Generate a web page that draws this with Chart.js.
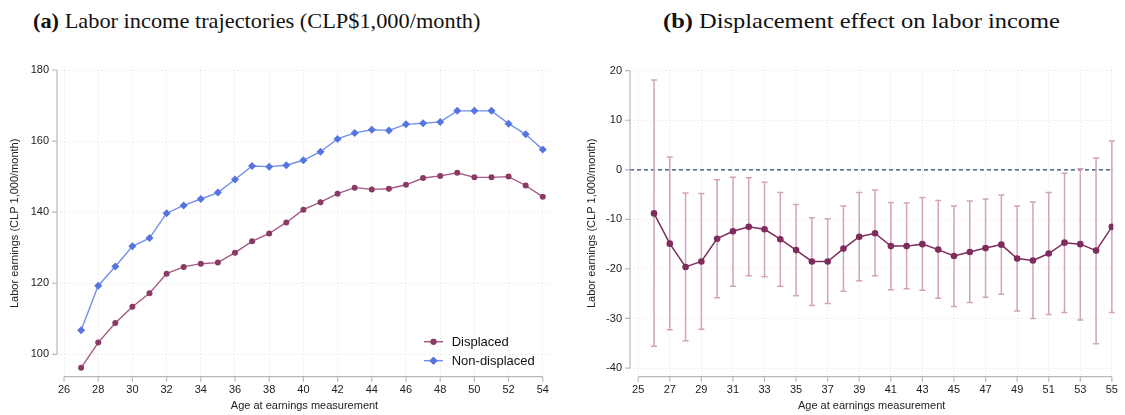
<!DOCTYPE html>
<html>
<head>
<meta charset="utf-8">
<script src="https://cdn.jsdelivr.net/npm/chart.js@4.4.1/dist/chart.umd.min.js"></script>
<style>
  body { margin: 0; background: #fff; }
  #page { position: relative; width: 1125px; height: 415px; overflow: hidden; }
  .title { position: absolute; top: 10px; font-family: "Liberation Serif", serif; font-size: 22px; line-height: 22px; color: #111; white-space: nowrap; transform-origin: 0 50%; }
  .title b { font-weight: bold; }
  .box { position: absolute; top: 50px; height: 365px; }
</style>
</head>
<body>
<div id="page">
  <div class="title" id="titleA" style="left:33px"><b>(a)</b> Labor income trajectories (CLP$1,000/month)</div>
  <div class="title" id="titleB" style="left:663px"><b>(b)</b> Displacement effect on labor income</div>
  <div class="box" style="left:0;width:560px"><canvas id="chartA"></canvas></div>
  <div class="box" style="left:560px;width:565px"><canvas id="chartB"></canvas></div>
</div>
<script>
// panel (a): income trajectories
const agesA = [27, 28, 29, 30, 31, 32, 33, 34, 35, 36, 37, 38, 39, 40, 41, 42, 43, 44, 45, 46, 47, 48, 49, 50, 51, 52, 53, 54];
const displaced = [96.2, 103.3, 108.8, 113.4, 117.2, 122.7, 124.6, 125.5, 125.8, 128.6, 131.8, 134.0, 137.1, 140.7,
                   142.8, 145.2, 146.9, 146.4, 146.6, 147.7, 149.6, 150.2, 151.1, 149.8, 149.8, 150.0, 147.5, 144.3];
const nonDisplaced = [106.8, 119.3, 124.7, 130.4, 132.7, 139.7, 141.9, 143.7, 145.5, 149.2, 153.0, 152.8, 153.2, 154.6,
                      157.0, 160.6, 162.3, 163.2, 163.0, 164.7, 165.0, 165.4, 168.5, 168.5, 168.5, 164.9, 161.9, 157.6];
const xTicksA = [26, 28, 30, 32, 34, 36, 38, 40, 42, 44, 46, 48, 50, 52, 54];
const yTicksA = [100, 120, 140, 160, 180];

// panel (b): displacement effect with 95% CI
const agesB = [26, 27, 28, 29, 30, 31, 32, 33, 34, 35, 36, 37, 38, 39, 40, 41, 42, 43, 44, 45, 46, 47, 48, 49, 50, 51, 52, 53, 54, 55];
const effect = [-8.8, -14.9, -19.6, -18.5, -13.9, -12.4, -11.5, -12.0, -14.0, -16.2, -18.5, -18.5, -15.9, -13.5, -12.8,
                -15.4, -15.4, -15.0, -16.1, -17.4, -16.6, -15.8, -15.1, -17.9, -18.3, -16.9, -14.7, -15.0, -16.3, -11.5];
const ciHigh = [18.1, 2.6, -4.7, -4.8, -2.0, -1.5, -1.6, -2.5, -4.6, -7.0, -9.7, -9.9, -7.3, -4.6, -4.1,
                -6.6, -6.7, -5.6, -6.2, -7.3, -6.3, -5.9, -5.1, -7.3, -6.5, -4.6, -0.7, 0.2, 2.4, 5.8];
const ciLow = [-35.6, -32.3, -34.5, -32.2, -25.8, -23.5, -21.4, -21.6, -23.5, -25.4, -27.4, -27.0, -24.5, -22.4, -21.4,
               -24.2, -24.0, -24.3, -25.9, -27.6, -26.8, -25.7, -25.1, -28.5, -30.0, -29.2, -28.8, -30.3, -35.1, -28.8];
const xTicksB = [25, 27, 29, 31, 33, 35, 37, 39, 41, 43, 45, 47, 49, 51, 53, 55];
const yTicksB = [-40, -30, -20, -10, 0, 10, 20];

// stretch the serif titles to the width they take in the original
[['titleA', 448], ['titleB', 397]].forEach(([id, w]) => {
  const el = document.getElementById(id);
  el.style.transform = 'scaleX(' + (w / el.offsetWidth) + ')';
});

const FONT = "'Liberation Sans', Arial, sans-serif";
const AXIS_GREY = '#b8b8b8';

Chart.defaults.font.family = FONT;
Chart.defaults.color = '#222';

// stata-like axes: lines span only first..last tick, ticks point outward
const stataAxes = {
  id: 'stataAxes',
  afterDraw(chart) {
    const ctx = chart.ctx;
    const a = chart.chartArea;
    const xs = chart.scales.x, ys = chart.scales.y;
    const xt = xs.ticks.map(t => xs.getPixelForValue(t.value));
    const yt = ys.ticks.map(t => ys.getPixelForValue(t.value));
    ctx.save();
    ctx.strokeStyle = AXIS_GREY;
    ctx.lineWidth = 1.2;
    ctx.beginPath();
    ctx.moveTo(a.left, Math.max(...yt));
    ctx.lineTo(a.left, Math.min(...yt));
    yt.forEach(p => { ctx.moveTo(a.left, p); ctx.lineTo(a.left - 5, p); });
    ctx.moveTo(Math.min(...xt), a.bottom);
    ctx.lineTo(Math.max(...xt), a.bottom);
    xt.forEach(p => { ctx.moveTo(p, a.bottom); ctx.lineTo(p, a.bottom + 5); });
    ctx.stroke();
    ctx.restore();
  }
};

function scalesFor(xmin, xmax, xTicks, ymin, ymax, yTicks, yWidth, yTitlePad) {
  return {
    x: {
      type: 'linear', min: xmin, max: xmax,
      afterBuildTicks: s => { s.ticks = xTicks.map(v => ({ value: v })); },
      afterFit: s => { s.height = 38.3; },
      grid: { color: '#e0e0e0', lineWidth: 1, drawTicks: false },
      border: { display: false, dash: [1, 3] },
      ticks: { padding: 7, maxRotation: 0, font: { size: 11 }, color: '#222' },
      title: { display: true, text: 'Age at earnings measurement', font: { size: 11 }, color: '#222', padding: { top: 0, bottom: 2 } }
    },
    y: {
      min: ymin, max: ymax,
      afterBuildTicks: s => { s.ticks = yTicks.map(v => ({ value: v })); },
      afterFit: s => { s.width = yWidth; },
      grid: { color: '#e0e0e0', lineWidth: 1, drawTicks: false },
      border: { display: false, dash: [1, 3] },
      ticks: { padding: 8, font: { size: 11 }, color: '#222' },
      title: { display: true, text: 'Labor earnings (CLP 1,000/month)', font: { size: 11 }, color: '#222', padding: { top: yTitlePad, bottom: 0 } }
    }
  };
}

// legend for panel (a), inside plot at bottom right
const legendA = {
  id: 'legendA',
  afterDraw(chart) {
    const ctx = chart.ctx;
    const a = chart.chartArea;
    const rows = [
      { ds: chart.data.datasets[0], y: a.bottom - 35 },
      { ds: chart.data.datasets[1], y: a.bottom - 16 }
    ];
    ctx.save();
    ctx.font = '13px ' + FONT;
    ctx.textBaseline = 'middle';
    rows.forEach(r => {
      const x0 = a.right - 128;
      ctx.strokeStyle = r.ds.borderColor;
      ctx.lineWidth = 1.5;
      ctx.beginPath();
      ctx.moveTo(x0, r.y);
      ctx.lineTo(x0 + 19, r.y);
      ctx.stroke();
      ctx.fillStyle = r.ds.pointBackgroundColor;
      Chart.helpers.drawPoint(ctx, { pointStyle: r.ds.pointStyle, radius: r.ds.pointRadius, borderWidth: 0 }, x0 + 9.5, r.y);
      ctx.fill();
      ctx.fillStyle = '#111';
      ctx.fillText(r.ds.label, x0 + 27.7, r.y + 1);
    });
    ctx.restore();
  }
};

new Chart(document.getElementById('chartA'), {
  type: 'line',
  data: {
    datasets: [
      {
        label: 'Displaced',
        data: agesA.map((a, i) => ({ x: a, y: displaced[i] })),
        borderColor: '#a45a84', borderWidth: 1.4,
        pointStyle: 'circle', pointRadius: 3, pointBackgroundColor: '#8b3a66', pointBorderWidth: 0
      },
      {
        label: 'Non-displaced',
        data: agesA.map((a, i) => ({ x: a, y: nonDisplaced[i] })),
        borderColor: '#7690ea', borderWidth: 1.4,
        pointStyle: 'rectRot', pointRadius: 4, pointBackgroundColor: '#5674e0', pointBorderWidth: 0
      }
    ]
  },
  options: {
    responsive: true, maintainAspectRatio: false, animation: false,
    layout: { padding: { left: 0, right: 8, top: 20, bottom: 0 } },
    plugins: { legend: { display: false }, tooltip: { enabled: false } },
    scales: scalesFor(25.59, 54.54, xTicksA, 93.7, 180, yTicksA, 57, 8.4)
  },
  plugins: [stataAxes, legendA]
});

// error bars and zero reference line for panel (b)
const ciBars = {
  id: 'ciBars',
  beforeDatasetsDraw(chart) {
    const ctx = chart.ctx;
    const xs = chart.scales.x, ys = chart.scales.y;
    const a = chart.chartArea;
    ctx.save();
    const y0 = ys.getPixelForValue(0);
    ctx.strokeStyle = '#2b4670';
    ctx.lineWidth = 1.2;
    ctx.setLineDash([4, 3]);
    ctx.beginPath();
    ctx.moveTo(a.left, y0);
    ctx.lineTo(a.right, y0);
    ctx.stroke();
    ctx.setLineDash([]);
    ctx.strokeStyle = '#d3a2bd';
    ctx.lineWidth = 1.5;
    ctx.beginPath();
    agesB.forEach((age, i) => {
      const px = xs.getPixelForValue(age);
      const hi = ys.getPixelForValue(ciHigh[i]);
      const lo = ys.getPixelForValue(ciLow[i]);
      ctx.moveTo(px, hi); ctx.lineTo(px, lo);
      ctx.moveTo(px - 3, hi); ctx.lineTo(px + 3, hi);
      ctx.moveTo(px - 3, lo); ctx.lineTo(px + 3, lo);
    });
    ctx.stroke();
    ctx.restore();
  }
};

new Chart(document.getElementById('chartB'), {
  type: 'line',
  data: {
    datasets: [{
      label: 'Effect',
      data: agesB.map((a, i) => ({ x: a, y: effect[i] })),
      borderColor: '#7e2c5c', borderWidth: 1.5,
      pointStyle: 'circle', pointRadius: 3.3, pointBackgroundColor: '#7e2c5c', pointBorderWidth: 0
    }]
  },
  options: {
    responsive: true, maintainAspectRatio: false, animation: false,
    layout: { padding: { left: 0, right: 5, top: 20, bottom: 0 } },
    plugins: { legend: { display: false }, tooltip: { enabled: false } },
    scales: scalesFor(24.48, 55.09, xTicksB, -41.75, 20.14, yTicksB, 70, 25)
  },
  plugins: [stataAxes, ciBars]
});
</script>
</body>
</html>
